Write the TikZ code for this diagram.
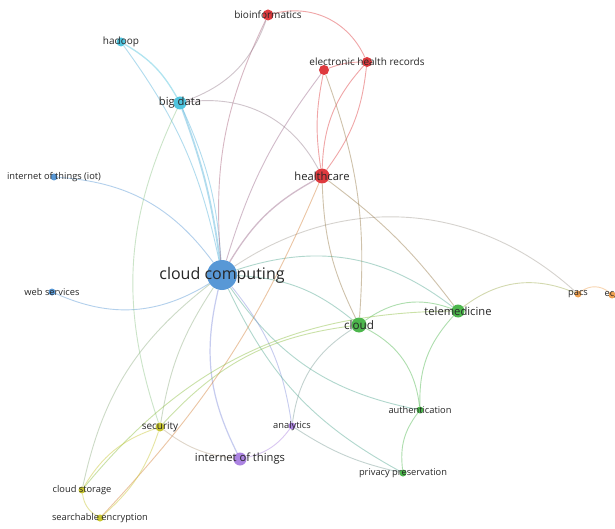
\documentclass[tikz,border=0pt]{standalone}
\usepackage{fontspec}
\setmainfont{Open Sans}
\usetikzlibrary{backgrounds}
\definecolor{ccblue}{RGB}{88,152,214}
\definecolor{bdcyan}{RGB}{80,196,222}
\definecolor{hcred}{RGB}{222,58,62}
\definecolor{clgreen}{RGB}{76,182,76}
\definecolor{seyellow}{RGB}{200,198,48}
\definecolor{itpurple}{RGB}{172,132,226}
\definecolor{paorange}{RGB}{240,162,82}
\tikzset{
  kw/.style={circle, inner sep=0pt, minimum size=#1},
  lbl/.style={text=black!85, inner sep=0pt},
  small/.style={font=\fontsize{9.3}{11}\selectfont},
  med/.style={font=\fontsize{10}{12}\selectfont},
  mid/.style={font=\fontsize{11.2}{13}\selectfont},
  link/.style={draw=#1, line width=0.9pt, draw opacity=0.45}
}

\begin{document}
\begin{tikzpicture}[x=1pt, y=-1pt]
\useasboundingbox (0,0) rectangle (615,529);
% keywords
\node[kw=30pt, fill=ccblue, label={[lbl, font=\fontsize{16}{19}\selectfont]center:cloud computing}] (cc) at (222,275) {};
\node[kw=11pt, fill=hcred, label={[lbl, med]center:bioinformatics}] (bioinf) at (268,15) {};
\node[kw=9pt, fill=bdcyan, label={[lbl, med]center:hadoop}] (hadoop) at (121,42) {};
\node[kw=13pt, fill=bdcyan, label={[lbl, mid]center:big data}] (bigdata) at (180,103) {};
\node[kw=10pt, fill=hcred] (ehra) at (324,70) {};
\node[kw=10pt, fill=hcred, label={[lbl, med]center:electronic health records}] (ehrb) at (367,62) {};
\node[kw=15pt, fill=hcred, label={[lbl, mid]center:healthcare}] (health) at (322,176) {};
\node[kw=7pt, fill=ccblue, label={[lbl, small]center:internet of things (iot)}] (iot) at (54,177) {};
\node[kw=7pt, fill=ccblue, label={[lbl, small]center:web services}] (websvc) at (52,292) {};
\node[kw=15pt, fill=clgreen, label={[lbl, font=\fontsize{11.7}{14}\selectfont]center:cloud}] (cloud) at (359,325) {};
\node[kw=13pt, fill=clgreen, label={[lbl, mid]center:telemedicine}] (telemed) at (458,311) {};
\node[kw=7pt, fill=paorange, label={[lbl, small]center:pacs}] (pacs) at (578,294) {};
\node[kw=7pt, fill=paorange, label={[lbl, small]center:ecg}] (ecg) at (612,295) {};
\node[kw=7pt, fill=clgreen, label={[lbl, small]center:authentication}] (auth) at (420,410) {};
\node[kw=7pt, fill=itpurple, label={[lbl, small]center:analytics}] (analytics) at (292,426) {};
\node[kw=9pt, fill=seyellow, label={[lbl, med]center:security}] (security) at (160,427) {};
\node[kw=13pt, fill=itpurple, label={[lbl, mid]center:internet of things}] (iothings) at (240,459) {};
\node[kw=7pt, fill=clgreen, label={[lbl, small]center:privacy preservation}] (privacy) at (403,473) {};
\node[kw=7pt, fill=seyellow, label={[lbl, small]center:cloud storage}] (cstorage) at (82,490) {};
\node[kw=7pt, fill=seyellow, label={[lbl, small]center:searchable encryption}] (search) at (100,518) {};
% links
\begin{scope}[on background layer]
\fill[white] (0,0) rectangle (615,529);
\draw[link=ccblue!40!bdcyan] (cc) to[bend right=12] (hadoop);
\draw[link=ccblue!40!bdcyan, line width=1.8pt] (cc) to[bend right=6] (bigdata);
\draw[link=ccblue!40!bdcyan] (cc) to[bend right=10] (bigdata);
\draw[link=ccblue] (cc) to[bend right=25] (iot);
\draw[link=ccblue] (cc) to[bend left=28] (websvc);
\draw[link=ccblue!40!hcred] (cc) to[bend left=15] (bioinf);
\draw[link=ccblue!50!hcred] (cc) to[bend left=10] (ehra);
\draw[link=ccblue!50!hcred, line width=1.3pt] (cc) to[bend left=15] (health);
\draw[link=ccblue!50!paorange] (cc) to[bend left=38] (pacs);
\draw[link=ccblue!50!clgreen] (cc) to[bend left=28] (telemed);
\draw[link=ccblue!50!clgreen] (cc) to[bend left=18] (cloud);
\draw[link=ccblue!50!clgreen] (cc) to[bend right=22] (auth);
\draw[link=ccblue!50!itpurple] (cc) to[bend left=15] (analytics);
\draw[link=ccblue!50!itpurple, line width=1.2pt] (cc) to[bend right=20] (iothings);
\draw[link=ccblue!50!seyellow] (cc) to[bend right=12] (security);
\draw[link=ccblue!50!seyellow] (cc) to[bend right=20] (cstorage);
\draw[link=ccblue!50!clgreen] (cc) to[bend right=18] (privacy);
\draw[link=bdcyan, line width=1.3pt] (bigdata) to[bend right=15] (hadoop);
\draw[link=bdcyan!50!hcred] (bigdata) to[bend right=25] (bioinf);
\draw[link=bdcyan!50!hcred] (bigdata) to[bend left=35] (health);
\draw[link=bdcyan!50!seyellow] (bigdata) to[bend right=22] (security);
\draw[link=hcred] (bioinf) to[bend left=40] (ehrb);
\draw[link=hcred] (ehra) to[bend left=10] (ehrb);
\draw[link=hcred] (ehra) to[bend right=10] (health);
\draw[link=hcred] (ehrb) to[bend right=20] (health);
\draw[link=hcred] (ehrb) to[bend left=15] (health);
\draw[link=hcred!50!clgreen] (ehra) to[bend left=12] (cloud);
\draw[link=hcred!50!clgreen] (health) to[bend right=12] (cloud);
\draw[link=hcred!50!clgreen] (health) to[bend left=8] (telemed);
\draw[link=hcred!50!seyellow] (health) to[bend left=10] (search);
\draw[link=clgreen] (cloud) to[bend left=28] (telemed);
\draw[link=clgreen] (cloud) to[bend left=28] (auth);
\draw[link=clgreen!50!itpurple] (cloud) to[bend right=25] (analytics);
\draw[link=clgreen] (telemed) to[bend right=22] (auth);
\draw[link=clgreen!50!paorange] (telemed) to[bend left=30] (pacs);
\draw[link=clgreen] (auth) to[bend right=22] (privacy);
\draw[link=clgreen!50!itpurple] (analytics) to[bend right=10] (privacy);
\draw[link=seyellow!50!clgreen] (security) to[bend left=20] (cloud);
\draw[link=seyellow!50!clgreen] (cstorage) to[bend left=25] (telemed);
\draw[link=paorange] (pacs) to[bend left=40] (ecg);
\draw[link=seyellow] (security) to[bend right=20] (cstorage);
\draw[link=seyellow] (security) to[bend left=15] (search);
\draw[link=seyellow] (cstorage) to[bend right=25] (search);
\draw[link=seyellow!50!itpurple] (security) to[bend right=15] (iothings);
\draw[link=itpurple] (iothings) to[bend right=20] (analytics);
\end{scope}
\end{tikzpicture}
\end{document}
